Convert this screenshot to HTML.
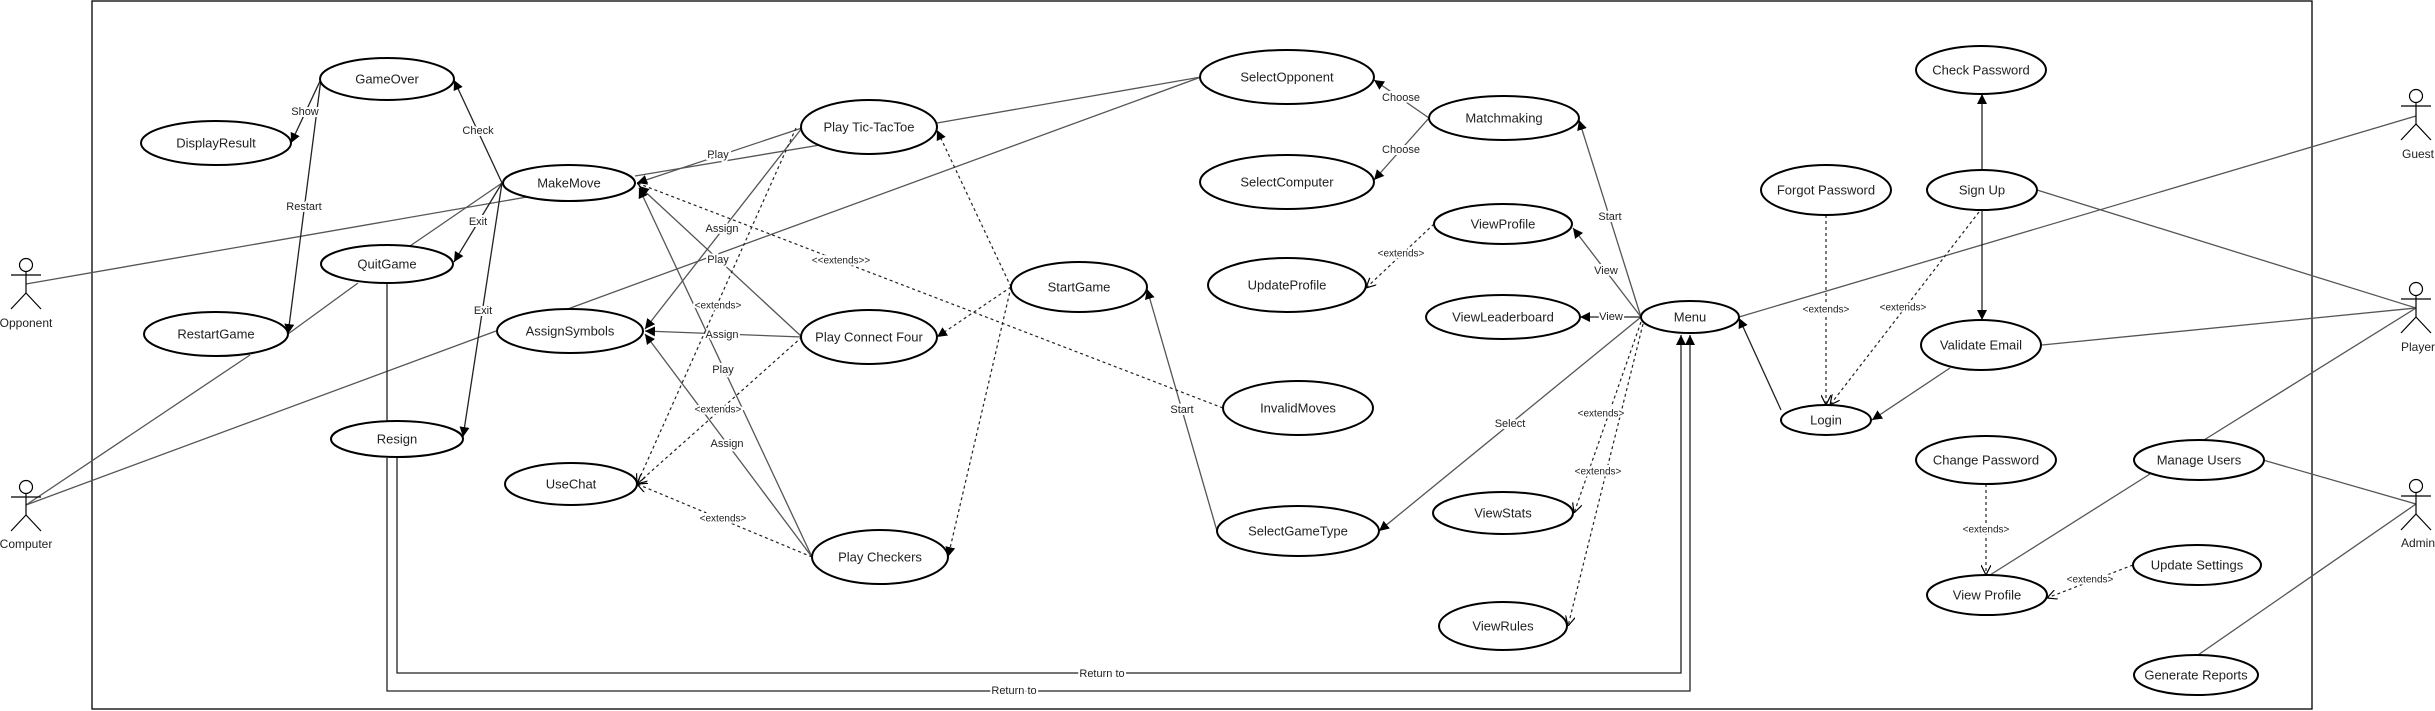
<!DOCTYPE html>
<html><head><meta charset="utf-8"><style>
html,body{margin:0;padding:0;background:#fff;}
svg{display:block;font-family:"Liberation Sans",Arial,sans-serif;}
.e{fill:#fff;stroke:#000;stroke-width:2;}
.t{font-size:13px;text-anchor:middle;dominant-baseline:central;fill:#222;}
.l{font-size:11px;text-anchor:middle;dominant-baseline:central;fill:#222;paint-order:stroke;stroke:#fff;stroke-width:4px;}
.x{font-size:10px;}
.g{stroke:#555;stroke-width:1.3;fill:none;}
.k{stroke:#222;stroke-width:1.3;fill:none;}
.d{stroke:#222;stroke-width:1.2;fill:none;stroke-dasharray:3,3;}
.a{stroke:#000;stroke-width:1.3;fill:none;}
</style></head><body>
<svg width="2435" height="711" viewBox="0 0 2435 711" xmlns="http://www.w3.org/2000/svg">
<defs>
<marker id="f" viewBox="0 0 10 10" refX="10" refY="5" markerWidth="10" markerHeight="10" markerUnits="userSpaceOnUse" orient="auto"><path d="M0,0 L10,5 L0,10 z" fill="#000"/></marker>
<marker id="o" viewBox="0 0 10 10" refX="10" refY="5" markerWidth="10" markerHeight="10" markerUnits="userSpaceOnUse" orient="auto"><path d="M0,0 L10,5 L0,10" fill="none" stroke="#000" stroke-width="1.2"/></marker>
</defs>
<rect x="92" y="1" width="2220" height="708" fill="none" stroke="#000" stroke-width="1.3"/>

<!-- lines (gray associations) -->
<g class="g">
<line x1="26" y1="284" x2="527" y2="197"/>
<line x1="26" y1="505" x2="250" y2="355"/>
<line x1="26" y1="505" x2="496" y2="331"/>
<line x1="410" y1="246" x2="502" y2="183"/>
<line x1="358" y1="283" x2="288" y2="334"/>
<line x1="565" y1="310" x2="1201" y2="77"/>
<line x1="937" y1="123" x2="1201" y2="77"/>
<line x1="635" y1="176" x2="820" y2="145"/>
<line x1="2416" y1="116" x2="1739" y2="317"/>
<line x1="2037" y1="190" x2="2416" y2="308"/>
<line x1="2042" y1="345" x2="2416" y2="308"/>
<line x1="2204" y1="440" x2="2416" y2="308"/>
<line x1="2263" y1="460" x2="2416" y2="504"/>
<line x1="2150" y1="474" x2="1990" y2="575"/>
<line x1="2198" y1="655" x2="2416" y2="504"/>
</g>
<!-- arrowed associations -->
<g class="g" marker-end="url(#f)">
<line x1="802" y1="128" x2="637" y2="183"/>
<line x1="802" y1="128" x2="645" y2="329"/>
<line x1="802" y1="337" x2="639" y2="186"/>
<line x1="802" y1="337" x2="645" y2="331"/>
<line x1="812" y1="557" x2="639" y2="188"/>
<line x1="812" y1="557" x2="645" y2="334"/>
<line x1="1429" y1="118" x2="1374" y2="80"/>
<line x1="1429" y1="118" x2="1374" y2="180"/>
<line x1="1641" y1="317" x2="1579" y2="120"/>
<line x1="1641" y1="317" x2="1573" y2="228"/>
<line x1="1641" y1="317" x2="1379" y2="531"/>
<line x1="1950" y1="368" x2="1872" y2="420"/>
<line x1="1217" y1="531" x2="1147" y2="289"/>
</g>
<g class="k" marker-end="url(#f)">
<line x1="321" y1="79" x2="291" y2="143"/>
<line x1="321" y1="79" x2="288" y2="334"/>
<line x1="502" y1="183" x2="454" y2="80"/>
<line x1="502" y1="183" x2="454" y2="262"/>
<line x1="502" y1="183" x2="463" y2="437"/>
<line x1="1641" y1="317" x2="1580" y2="317"/>
<line x1="1982" y1="171" x2="1982" y2="94"/>
<line x1="1982" y1="210" x2="1982" y2="320"/>
<line x1="1781" y1="410" x2="1739" y2="318"/>
<polyline points="397,458 397,673 1681,673 1681,335" fill="none"/>
<polyline points="387,458 387,691 1690,691 1690,335" fill="none"/>
</g>
<line class="k" x1="387" y1="283" x2="387" y2="421"/>
<!-- dashed -->
<g class="d" marker-end="url(#o)">
<line x1="796" y1="128" x2="637" y2="484"/>
<line x1="802" y1="337" x2="637" y2="484"/>
<line x1="812" y1="557" x2="637" y2="484"/>
<line x1="1223" y1="408" x2="637" y2="183"/>
<line x1="1641" y1="322" x2="1574" y2="513"/>
<line x1="1643" y1="324" x2="1568" y2="626"/>
<line x1="1434" y1="224" x2="1366" y2="288"/>
<line x1="1826" y1="215" x2="1826" y2="405"/>
<line x1="1979" y1="212" x2="1830" y2="405"/>
<line x1="1986" y1="484" x2="1986" y2="575"/>
<line x1="2133" y1="565" x2="2047" y2="598"/>
</g>
<g class="d" marker-end="url(#f)">
<line x1="1011" y1="287" x2="937" y2="130"/>
<line x1="1011" y1="287" x2="937" y2="337"/>
<line x1="1011" y1="287" x2="948" y2="557"/>
</g>

<!-- ellipses -->
<g class="e">
<ellipse cx="387" cy="79" rx="67" ry="21"/>
<ellipse cx="216" cy="143" rx="75" ry="22"/>
<ellipse cx="569" cy="183" rx="66" ry="18"/>
<ellipse cx="387" cy="264" rx="66" ry="19"/>
<ellipse cx="216" cy="334" rx="72" ry="22"/>
<ellipse cx="570" cy="331" rx="73" ry="22"/>
<ellipse cx="397" cy="439" rx="66" ry="18"/>
<ellipse cx="571" cy="484" rx="66" ry="21"/>
<ellipse cx="869" cy="127" rx="68" ry="27"/>
<ellipse cx="1287" cy="77" rx="87" ry="27"/>
<ellipse cx="1504" cy="118" rx="75" ry="22"/>
<ellipse cx="1287" cy="182" rx="87" ry="27"/>
<ellipse cx="1503" cy="224" rx="69" ry="20"/>
<ellipse cx="1287" cy="285" rx="79" ry="27"/>
<ellipse cx="1503" cy="317" rx="77" ry="22"/>
<ellipse cx="1079" cy="287" rx="68" ry="25"/>
<ellipse cx="869" cy="337" rx="68" ry="27"/>
<ellipse cx="1298" cy="408" rx="75" ry="27"/>
<ellipse cx="880" cy="557" rx="68" ry="27"/>
<ellipse cx="1298" cy="531" rx="81" ry="25"/>
<ellipse cx="1503" cy="513" rx="70" ry="21"/>
<ellipse cx="1503" cy="626" rx="64" ry="24"/>
<ellipse cx="1981" cy="70" rx="65" ry="24"/>
<ellipse cx="1826" cy="190" rx="65" ry="25"/>
<ellipse cx="1982" cy="190" rx="55" ry="20"/>
<ellipse cx="1690" cy="317" rx="49" ry="16"/>
<ellipse cx="1981" cy="345" rx="60" ry="25"/>
<ellipse cx="1826" cy="420" rx="45" ry="15"/>
<ellipse cx="1986" cy="460" rx="70" ry="24"/>
<ellipse cx="2199" cy="460" rx="65" ry="20"/>
<ellipse cx="2197" cy="565" rx="64" ry="20"/>
<ellipse cx="1987" cy="595" rx="60" ry="20"/>
<ellipse cx="2196" cy="675" rx="62" ry="20"/>
</g>
<g class="t">
<text x="387" y="79">GameOver</text>
<text x="216" y="143">DisplayResult</text>
<text x="569" y="183">MakeMove</text>
<text x="387" y="264">QuitGame</text>
<text x="216" y="334">RestartGame</text>
<text x="570" y="331">AssignSymbols</text>
<text x="397" y="439">Resign</text>
<text x="571" y="484">UseChat</text>
<text x="869" y="127">Play Tic-TacToe</text>
<text x="1287" y="77">SelectOpponent</text>
<text x="1504" y="118">Matchmaking</text>
<text x="1287" y="182">SelectComputer</text>
<text x="1503" y="224">ViewProfile</text>
<text x="1287" y="285">UpdateProfile</text>
<text x="1503" y="317">ViewLeaderboard</text>
<text x="1079" y="287">StartGame</text>
<text x="869" y="337">Play Connect Four</text>
<text x="1298" y="408">InvalidMoves</text>
<text x="880" y="557">Play Checkers</text>
<text x="1298" y="531">SelectGameType</text>
<text x="1503" y="513">ViewStats</text>
<text x="1503" y="626">ViewRules</text>
<text x="1981" y="70">Check Password</text>
<text x="1826" y="190">Forgot Password</text>
<text x="1982" y="190">Sign Up</text>
<text x="1690" y="317">Menu</text>
<text x="1981" y="345">Validate Email</text>
<text x="1826" y="420">Login</text>
<text x="1986" y="460">Change Password</text>
<text x="2199" y="460">Manage Users</text>
<text x="2197" y="565">Update Settings</text>
<text x="1987" y="595">View Profile</text>
<text x="2196" y="675">Generate Reports</text>
</g>
<!-- edge labels -->
<g class="l">
<text x="305" y="112">Show</text>
<text x="304" y="207">Restart</text>
<text x="478" y="131">Check</text>
<text x="478" y="222">Exit</text>
<text x="483" y="311">Exit</text>
<text x="718" y="155">Play</text>
<text x="722" y="229">Assign</text>
<text x="718" y="260">Play</text>
<text x="722" y="335">Assign</text>
<text x="723" y="370">Play</text>
<text x="727" y="444">Assign</text>
<text class="x" x="718" y="306">&lt;extends&gt;</text>
<text class="x" x="718" y="410">&lt;extends&gt;</text>
<text class="x" x="723" y="519">&lt;extends&gt;</text>
<text class="x" x="841" y="261">&lt;&lt;extends&gt;&gt;</text>
<text x="1182" y="410">Start</text>
<text x="1401" y="98">Choose</text>
<text x="1401" y="150">Choose</text>
<text x="1610" y="217">Start</text>
<text x="1606" y="271">View</text>
<text x="1611" y="317">View</text>
<text x="1510" y="424">Select</text>
<text class="x" x="1601" y="414">&lt;extends&gt;</text>
<text class="x" x="1598" y="472">&lt;extends&gt;</text>
<text class="x" x="1401" y="254">&lt;extends&gt;</text>
<text class="x" x="1826" y="310">&lt;extends&gt;</text>
<text class="x" x="1903" y="308">&lt;extends&gt;</text>
<text class="x" x="1986" y="530">&lt;extends&gt;</text>
<text class="x" x="2090" y="580">&lt;extends&gt;</text>
<text x="1102" y="674">Return to</text>
<text x="1014" y="691">Return to</text>
</g>

<!-- actors -->
<g stroke="#000" stroke-width="1.2" fill="#fff">
<g transform="translate(26,265)"><circle cx="0" cy="0" r="6.5"/><line x1="0" y1="6.5" x2="0" y2="28"/><line x1="-15" y1="10" x2="15" y2="10"/><line x1="0" y1="28" x2="-15" y2="44"/><line x1="0" y1="28" x2="15" y2="44"/></g>
<g transform="translate(26,487)"><circle cx="0" cy="0" r="6.5"/><line x1="0" y1="6.5" x2="0" y2="28"/><line x1="-15" y1="10" x2="15" y2="10"/><line x1="0" y1="28" x2="-15" y2="44"/><line x1="0" y1="28" x2="15" y2="44"/></g>
<g transform="translate(2416,96)"><circle cx="0" cy="0" r="6.5"/><line x1="0" y1="6.5" x2="0" y2="28"/><line x1="-15" y1="10" x2="15" y2="10"/><line x1="0" y1="28" x2="-15" y2="44"/><line x1="0" y1="28" x2="15" y2="44"/></g>
<g transform="translate(2416,289)"><circle cx="0" cy="0" r="6.5"/><line x1="0" y1="6.5" x2="0" y2="28"/><line x1="-15" y1="10" x2="15" y2="10"/><line x1="0" y1="28" x2="-15" y2="44"/><line x1="0" y1="28" x2="15" y2="44"/></g>
<g transform="translate(2416,486)"><circle cx="0" cy="0" r="6.5"/><line x1="0" y1="6.5" x2="0" y2="28"/><line x1="-15" y1="10" x2="15" y2="10"/><line x1="0" y1="28" x2="-15" y2="44"/><line x1="0" y1="28" x2="15" y2="44"/></g>
</g>
<g class="t" style="font-size:12px">
<text x="26" y="323">Opponent</text>
<text x="26" y="544">Computer</text>
<text x="2418" y="154">Guest</text>
<text x="2418" y="347">Player</text>
<text x="2418" y="543">Admin</text>
</g>
</svg>
</body></html>
